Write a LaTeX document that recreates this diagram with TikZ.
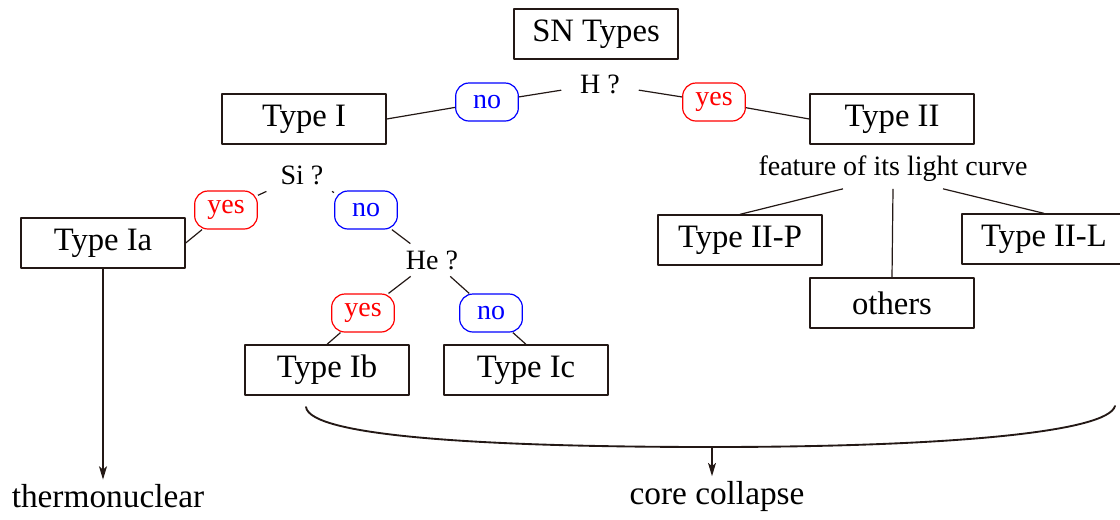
\documentclass[tikz,border=0pt]{standalone}
\usepackage{fontspec}
\setmainfont{Liberation Serif}
\usetikzlibrary{arrows.meta}
\definecolor{inkbrown}{RGB}{35,24,21}
\begin{document}
\begin{tikzpicture}[x=0.75pt,y=-0.75pt, line join=round, >={Stealth[length=10pt,width=6pt,inset=2.5pt]},
    typebox/.style={draw=\ink, line width=1pt, minimum width=123pt, minimum height=37.5pt, inner sep=0pt, font=\fontsize{24.5}{28}\selectfont},
    ques/.style={inner xsep=14pt, inner ysep=5pt, font=\fontsize{21}{24}\selectfont},
    answer/.style={draw, line width=0.9pt, rounded corners=10pt, minimum width=47pt, minimum height=28.5pt, inner sep=0pt, font=\fontsize{21}{24}\selectfont},
    ansyes/.style={answer, draw=\yescol, text=\yescol},
    ansno/.style={answer, draw=\nocol, text=\nocol},
    wire/.style={draw=\ink, line width=0.9pt},
    result/.style={font=\fontsize{25}{29}\selectfont}]
    \def\ink{inkbrown}
    \def\yescol{red}
    \def\nocol{blue}
    \useasboundingbox (0,0) rectangle (1120,519);
    % top of the tree
    \node[typebox] (sn) at (596,34) {SN Types};
    \node[ques] (h) at (600,84) {H ?};
    \node[ansno] (noH) at (487,102) {no};
    \node[ansyes] (yesH) at (714,102) {yes};
    \node[typebox] (t1) at (304,119) {Type I};
    \node[typebox] (t2) at (892,119) {Type II};
    % type I branch
    \node[ques] (si) at (302,175) {Si ?};
    \node[ansyes] (yesSi) at (226,210) {yes};
    \node[ansno] (noSi) at (366,210) {no};
    \node[typebox] (t1a) at (103,243) {Type Ia};
    \node[ques] (he) at (432,260) {He ?};
    \node[ansyes] (yesHe) at (363,313) {yes};
    \node[ansno] (noHe) at (491,313) {no};
    \node[typebox] (t1b) at (327,370) {Type Ib};
    \node[typebox] (t1c) at (526,370) {Type Ic};
    % type II branch
    \node[ques, inner xsep=3pt] (feat) at (893,169) {feature of its light curve};
    \node[typebox] (t2p) at (740,240) {Type II-P};
    \node[typebox] (t2l) at (1044,239) {Type II-L};
    \node[typebox] (oth) at (892,303) {others};
    % mechanisms
    \node[result] (thermo) at (108,496) {thermonuclear};
    \node[result] (core) at (717,496) {core collapse};
    \draw[wire] (h) -- (noH) -- (t1.east) ;
    \draw[wire] (h) -- (yesH) -- (t2.west) ;
    \draw[wire] (si) -- (yesSi) -- (t1a.east) ;
    \draw[wire] (si) -- (noSi) -- (he) ;
    \draw[wire] (he) -- (yesHe) -- (t1b.north) ;
    \draw[wire] (he) -- (noHe) -- (t1c.north) ;
    \draw[wire] ([xshift=-37.5pt]feat.south) -- (t2p.north) ;
    \draw[wire] (feat.south) -- (oth.north) ;
    \draw[wire] ([xshift=37.5pt]feat.south) -- (t2l.north) ;
    \coordinate (ccL) at (306,407);
    \coordinate (cc) at (712,447);
    \coordinate (ccR) at (1115,406);
    \draw[wire, line width=1.4pt, line cap=round] (ccL) .. controls (310,436) and (480,447) .. (cc) .. controls (950,447) and (1108,432) .. (ccR) ;
    \draw[wire,->] (cc) -- (cc |- core.north) ;
    \draw[wire,->] (t1a) -- (t1a |- thermo.north) ;
\end{tikzpicture}
\end{document}
